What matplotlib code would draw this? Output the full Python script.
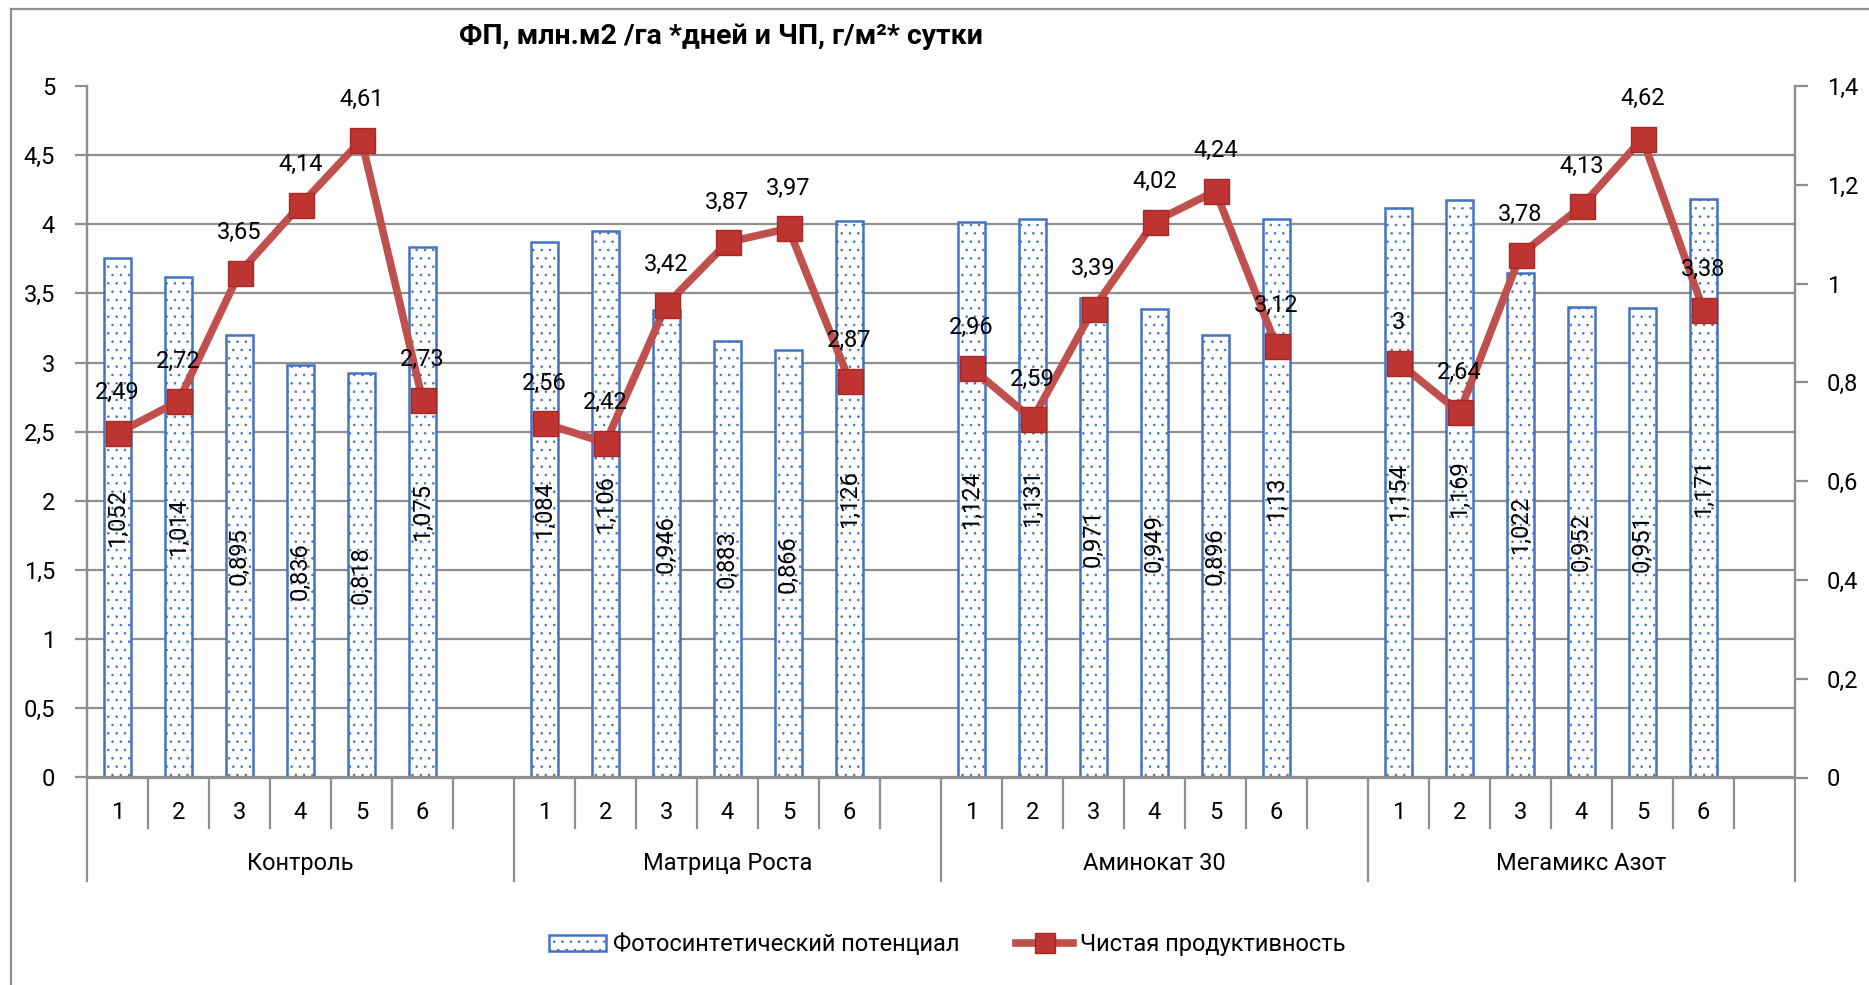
import numpy as np
import matplotlib
matplotlib.use("Agg")
import matplotlib.pyplot as plt
from matplotlib.lines import Line2D
from matplotlib.patches import Patch

plt.rcParams['font.family'] = ['Roboto', 'DejaVu Sans']
plt.rcParams['hatch.linewidth'] = 0.6

# --- data ---
groups = ["Контроль", "Матрица Роста", "Аминокат 30", "Мегамикс Азот"]
sub_labels = ["1", "2", "3", "4", "5", "6"]

# photosynthetic potential (right axis)
fp_kontrol = [1.052, 1.014, 0.895, 0.836, 0.818, 1.075]
fp_matrica = [1.084, 1.106, 0.946, 0.883, 0.866, 1.126]
fp_aminokat = [1.124, 1.131, 0.971, 0.949, 0.896, 1.13]
fp_megamix = [1.154, 1.169, 1.022, 0.952, 0.951, 1.171]

# net productivity (left axis)
chp_kontrol = [2.49, 2.72, 3.65, 4.14, 4.61, 2.73]
chp_matrica = [2.56, 2.42, 3.42, 3.87, 3.97, 2.87]
chp_aminokat = [2.96, 2.59, 3.39, 4.02, 4.24, 3.12]
chp_megamix = [3, 2.64, 3.78, 4.13, 4.62, 3.38]

fp_all = [fp_kontrol, fp_matrica, fp_aminokat, fp_megamix]
chp_all = [chp_kontrol, chp_matrica, chp_aminokat, chp_megamix]

# each group gets 6 slots plus one empty slot
slots = len(sub_labels) + 1
fp = []
chp = []
for f, c in zip(fp_all, chp_all):
    fp += f + [np.nan]
    chp += c + [np.nan]
fp = np.array(fp)
chp = np.array(chp)
x = np.arange(len(fp))

def comma(v):
    return f"{v:g}".replace('.', ',')

GRAY = '#8f8f8f'
BLUE = '#4472C4'
RED = '#C0504D'
FS = 17

fig = plt.figure(figsize=(18.69, 9.85), dpi=100)
ax = fig.add_axes([87/1869, 1 - 777.5/985, (1795-87)/1869, (777.5-86)/985])
ax2 = ax.twinx()

# bars on the right scale
ax.bar(x, fp, width=0.44, facecolor='white', edgecolor=BLUE, hatch='..',
       linewidth=1.8, zorder=2)
ax.set_ylim(0, 1.4)
ax.set_xlim(-0.5, len(fp) - 0.5)
ax.yaxis.tick_right()
ax.set_yticks(np.arange(0, 1.41, 0.2))
ax.set_yticklabels([comma(round(v, 1)) for v in np.arange(0, 1.41, 0.2)])

# gridlines follow the left scale, drawn under the bars
ax.set_yticks(np.arange(0, 5.01, 0.5) * 1.4 / 5, minor=True)
ax.grid(which='minor', axis='y', color=GRAY, linewidth=1.6)
ax.tick_params(axis='y', which='minor', length=0)
ax.set_axisbelow(True)
ax.set_xticks([])

for xi, v in zip(x, fp):
    if not np.isnan(v):
        ax.text(xi, v / 2, comma(v), rotation=90, ha='center', va='center',
                fontsize=FS, zorder=3)

# line on the left scale
ax2.plot(x, chp, color=RED, linewidth=5.5, marker='s', markersize=18,
         markerfacecolor='#BE3430', markeredgecolor='#A52A27', markeredgewidth=1,
         zorder=5)
ax2.set_ylim(0, 5)
ax2.yaxis.tick_left()
ax2.set_yticks(np.arange(0, 5.01, 0.5))
ax2.set_yticklabels([comma(v) for v in np.arange(0, 5.01, 0.5)])
for xi, v in zip(x, chp):
    if not np.isnan(v):
        ax2.annotate(comma(v), (xi, v), xytext=(0, 29), textcoords='offset points',
                     ha='center', va='center', fontsize=FS, zorder=6)

for a in (ax, ax2):
    for s in a.spines.values():
        s.set_color(GRAY)
        s.set_linewidth(1.6)
    a.spines['top'].set_visible(False)
    a.tick_params(axis='y', which='major', length=9, width=1.6, color=GRAY,
                  labelsize=FS, pad=14)
ax2.set_xticks([])

# two-level category axis drawn below the plot
tr = ax.get_xaxis_transform()
for i in range(len(fp) + 1):
    xb = i - 0.5
    if i % slots == 0:
        ax.plot([xb, xb], [0, -0.149], transform=tr, color=GRAY, lw=1.6, clip_on=False)
    else:
        ax.plot([xb, xb], [0, -0.073], transform=tr, color=GRAY, lw=1.6, clip_on=False)
for g, name in enumerate(groups):
    for j, lab in enumerate(sub_labels):
        ax.text(g * slots + j, -0.051, lab, transform=tr, ha='center', va='center',
                fontsize=FS)
    ax.text(g * slots + (slots - 1) / 2, -0.124, name, transform=tr, ha='center',
            va='center', fontsize=FS)

fig.text(0.386, 0.963, "ФП, млн.м2 /га *дней и ЧП, г/м²* сутки", ha='center',
         va='center', fontsize=20.5, fontweight='bold')

handles = [Patch(facecolor='white', edgecolor=BLUE, hatch='..', linewidth=1.8),
           Line2D([], [], color=RED, linewidth=5.5, marker='s', markersize=14,
                  markerfacecolor='#BE3430', markeredgecolor='#A52A27')]
fig.legend(handles, ["Фотосинтетический потенциал", "Чистая продуктивность"],
           loc='center', bbox_to_anchor=(0.507, 0.041), ncol=2, frameon=False,
           fontsize=FS, handlelength=2.4, handletextpad=0.3, columnspacing=2.4)

# chart frame (left and top edges visible)
fig.add_artist(Line2D([10.5/1869, 10.5/1869], [0, 1 - 9/985], color=GRAY, lw=1.6))
fig.add_artist(Line2D([10.5/1869, 1], [1 - 9/985, 1 - 9/985], color=GRAY, lw=1.6))

fig.savefig("out.png", dpi=100)
